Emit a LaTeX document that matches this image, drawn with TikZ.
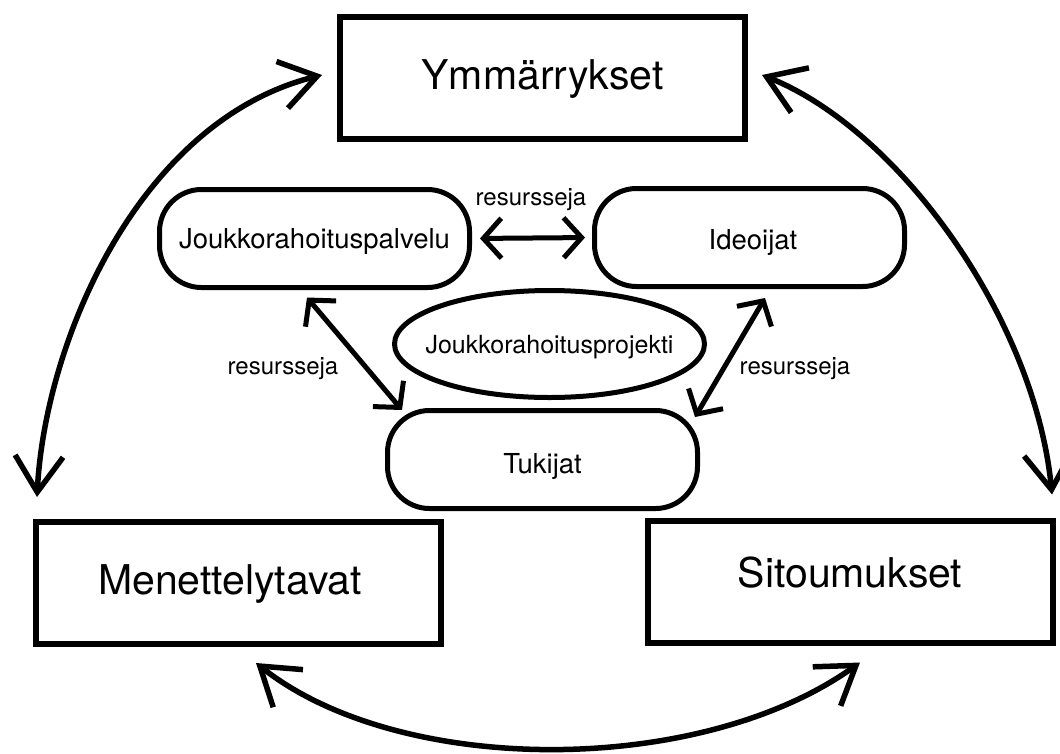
\documentclass[tikz,border=0pt]{standalone}
\usepackage{fontspec}
\setmainfont{TeX Gyre Heros}
\usetikzlibrary{arrows.meta,shapes.geometric,calc}

\begin{document}
\begin{tikzpicture}[x=1pt,y=-1pt,
  concept/.style={draw, line width=6pt, rectangle, minimum width=405pt,
    minimum height=122pt, inner sep=0pt, font=\fontsize{41}{49}\selectfont,
    text height=29.5pt, text depth=0pt},
  actor/.style={draw, line width=5pt, rectangle, rounded corners=42pt,
    minimum width=310pt, minimum height=98pt, inner sep=0pt,
    font=\fontsize{27.5}{33}\selectfont, text height=19.7pt, text depth=0pt},
  project/.style={draw, line width=5pt, ellipse, minimum width=310pt,
    minimum height=107pt, inner sep=0pt},
  projecttext/.style={font=\fontsize{25}{30}\selectfont, inner sep=0pt,
    text height=18pt, text depth=0pt},
  flowlabel/.style={font=\fontsize{24}{29}\selectfont, inner sep=0pt, anchor=base},
  flowlink/.style={line width=5pt,
    {Straight Barb[length=18pt,width=40pt]}-{Straight Barb[length=18pt,width=40pt]}},
  loopline/.style={line width=5.5pt,
    {Straight Barb[length=36pt,width=48pt]}-{Straight Barb[length=36pt,width=48pt]}}
]
\useasboundingbox (0,0) rectangle (1060,753);

% the three outer concepts
\node[concept] (ym)  at (542.5,77.5)  {\raisebox{3pt}{Ymmärrykset}};
\node[concept] (men) at (238,582.5)   {\hspace*{-16pt}\raisebox{3pt}{Menettelytavat}};
\node[concept] (sit) at (850,581.5)   {\raisebox{9pt}{Sitoumukset}};

% the actors around the project
\node[actor] (jp) at (314.5,238.5) {Joukkorahoituspalvelu};
\node[actor] (id) at (749.5,237.5) {\hspace*{7pt}\raisebox{-2.5pt}{Ideoijat}};
\node[actor] (tu) at (542.5,459.5) {\raisebox{-4.5pt}{Tukijat}};

% the project in the middle
\node[project] (pr) at (549.5,344) {};
\node[projecttext] (prt) at (pr.center) {Joukkorahoitusprojekti};

% resource flows between the actors
\draw[flowlink, shorten <=8pt, shorten >=7pt] (jp.east) -- (id.west);
\draw[flowlink] ($(jp.south)+(-7.5,7.5)$) -- ($(tu.north west)+(17,2)$);
\draw[flowlink] ($(id.south)+(15.5,9)$) -- ($(tu.north east)+(-5,9)$);

\node[flowlabel] (r1) at (531,205) {resursseja};
\node[flowlabel] (r2) at (283,374) {resursseja};
\node[flowlabel] (r3) at (795,374) {resursseja};

% the cycle between the outer concepts
\coordinate (menTop) at ($(men.north west)+(4.5,-21.5)$);
\coordinate (ymLeft) at ($(ym.west)+(-15,-2.5)$);
\coordinate (ymRight) at ($(ym.east)+(14,-2.5)$);
\coordinate (sitTop) at ($(sit.north east)+(-3.5,-23)$);
\coordinate (menBottom) at ($(men.south)+(18,16.5)$);
\coordinate (sitBottom) at ($(sit.south)+(10,17)$);

\draw[loopline] (menTop) .. controls (45,340) and (140,120) .. (ymLeft);
\draw[loopline] (ymRight) .. controls (900,130) and (1035,320) .. (sitTop);
\draw[loopline] (menBottom) .. controls (400,777) and (700,777) .. (sitBottom);
\end{tikzpicture}
\end{document}
